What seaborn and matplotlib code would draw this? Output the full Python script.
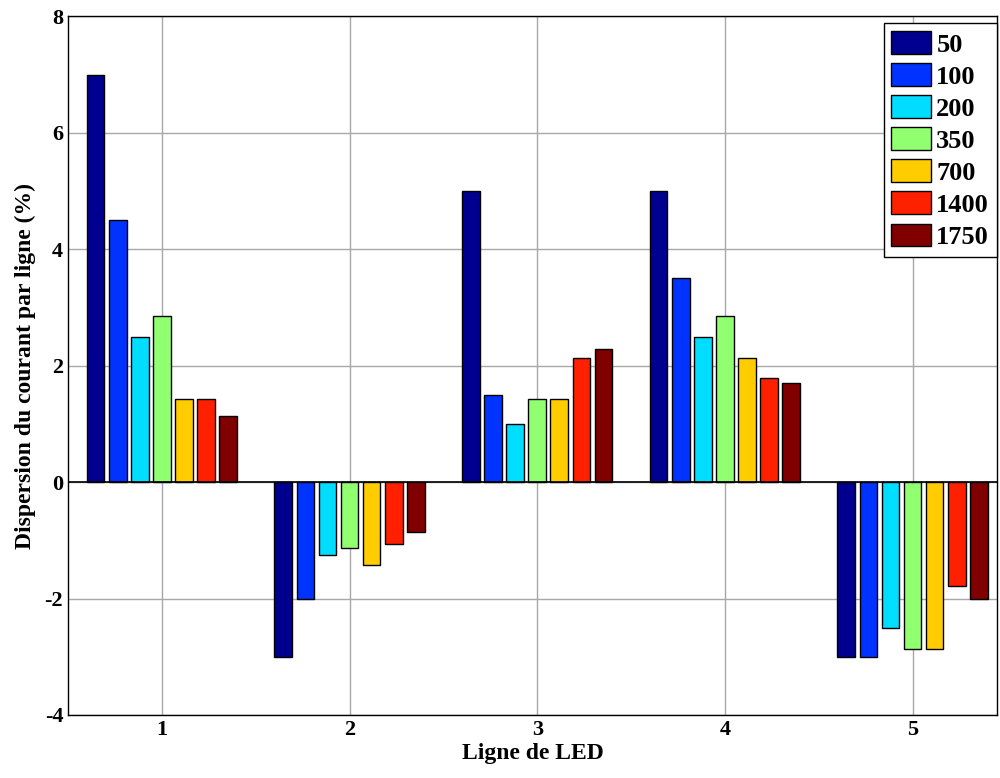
import pandas as pd
import matplotlib
matplotlib.use("Agg")
import matplotlib.pyplot as plt
import seaborn as sns

# data
lignes = [1, 2, 3, 4, 5]
courants = ["50", "100", "200", "350", "700", "1400", "1750"]
v50 = [7.0, -3.0, 5.0, 5.0, -3.0]
v100 = [4.5, -2.0, 1.5, 3.5, -3.0]
v200 = [2.5, -1.25, 1.0, 2.5, -2.5]
v350 = [2.86, -1.14, 1.43, 2.86, -2.86]
v700 = [1.43, -1.43, 1.43, 2.14, -2.86]
v1400 = [1.43, -1.07, 2.14, 1.79, -1.79]
v1750 = [1.14, -0.86, 2.29, 1.71, -2.0]
couleurs = ["#000090", "#0033FF", "#00DDFF", "#90FF70", "#FFCC00", "#FF2000", "#800000"]

rows = []
for c, vals in zip(courants, [v50, v100, v200, v350, v700, v1400, v1750]):
    for l, v in zip(lignes, vals):
        rows.append({"Ligne": l, "Courant": c, "Dispersion": v})
df = pd.DataFrame(rows)

sns.set_style("white")
plt.rcParams["font.family"] = ["Liberation Serif", "DejaVu Serif"]
plt.rcParams["font.weight"] = "bold"
plt.rcParams["axes.unicode_minus"] = False
plt.rcParams["text.color"] = "black"
plt.rcParams["axes.labelcolor"] = "black"
plt.rcParams["xtick.color"] = "black"
plt.rcParams["ytick.color"] = "black"

fig = plt.figure(figsize=(10, 7.78), dpi=100)
ax = fig.add_axes([0.068, 0.081, 0.929, 0.898])

sns.barplot(data=df, x="Ligne", y="Dispersion", hue="Courant", hue_order=courants,
            palette=couleurs, native_scale=True, width=0.8235, gap=0.2,
            edgecolor="black", linewidth=1, ax=ax, errorbar=None, saturation=1)

ax.set_xlim(0.5, 5.45)
ax.set_ylim(-4, 8)
ax.set_xticks(lignes)
ax.set_yticks([-4, -2, 0, 2, 4, 6, 8])
ax.grid(True, color="#a8a8a8", linewidth=1)
ax.set_axisbelow(True)
ax.axhline(0, color="black", linewidth=1.2)
for s in ax.spines.values():
    s.set_color("black")
    s.set_linewidth(1)
ax.tick_params(direction="in", labelsize=16, length=4, color="black", labelcolor="black")
for t in ax.get_xticklabels() + ax.get_yticklabels():
    t.set_fontweight("bold")

ax.set_xlabel("Ligne de LED", fontsize=17, fontweight="bold", labelpad=2)
ax.set_ylabel("Dispersion du courant par ligne (%)", fontsize=17, fontweight="bold", labelpad=6)

leg = ax.legend(loc="upper right", bbox_to_anchor=(1.0, 0.99), fontsize=19, frameon=True,
                fancybox=False, edgecolor="black", framealpha=1, borderaxespad=0,
                handlelength=1.5, handleheight=0.95, handletextpad=0.2,
                labelspacing=0.25, borderpad=0.3, title=None)
leg.get_frame().set_linewidth(1)
for t in leg.get_texts():
    t.set_fontweight("bold")
    t.set_color("black")

fig.savefig("out.png", dpi=100)
